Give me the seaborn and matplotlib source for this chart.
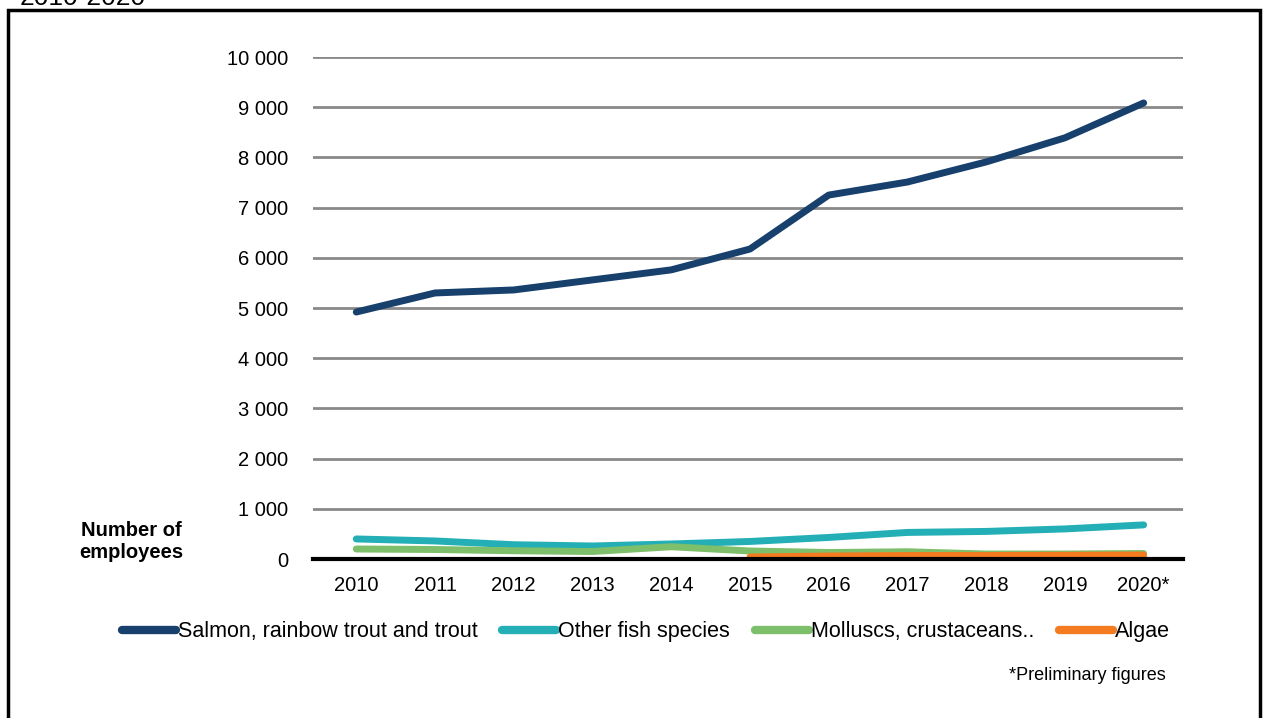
import numpy as np
import pandas as pd
import matplotlib.pyplot as plt
from matplotlib.patches import Rectangle
import seaborn as sns

# data
years = ["2010", "2011", "2012", "2013", "2014", "2015",
         "2016", "2017", "2018", "2019", "2020*"]
salmon = [4920, 5300, 5360, 5560, 5760, 6175, 7250, 7510, 7910, 8390, 9085]
other_fish = [400, 360, 285, 260, 300, 350, 430, 530, 550, 600, 680]
molluscs = [200, 190, 165, 150, 245, 160, 130, 145, 100, 100, 110]
algae = [np.nan, np.nan, np.nan, np.nan, np.nan, 40, 60, 70, 70, 75, 80]

series_names = ["Salmon, rainbow trout and trout", "Other fish species",
                "Molluscs, crustaceans..", "Algae"]
colors = ["#17406D", "#23AFB5", "#7DBF6B", "#F47B20"]
y_ticks = list(range(0, 10001, 1000))

df = pd.DataFrame({
    "x": list(range(len(years))) * 4,
    "value": salmon + other_fish + molluscs + algae,
    "series": np.repeat(series_names, len(years)),
})

sns.set_style("white")
plt.rcParams['font.family'] = ['Liberation Sans', 'DejaVu Sans']
plt.rcParams['text.color'] = 'black'
plt.rcParams['xtick.color'] = 'black'
plt.rcParams['ytick.color'] = 'black'

fig = plt.figure(figsize=(12.65, 7.18), dpi=100)
ax = fig.add_axes([0.2474, 0.2214, 0.6878, 0.6992])

sns.lineplot(data=df, x="x", y="value", hue="series", hue_order=series_names,
             palette=colors, linewidth=5, ax=ax, legend=False,
             solid_capstyle="round")

ax.set_xlim(-0.55, 10.5)
ax.set_ylim(0, 10000)
ax.set_xticks(range(len(years)))
ax.set_xticklabels(years, fontsize=14.5)
ax.set_yticks(y_ticks)
ax.set_yticklabels([f"{v:,}".replace(",", " ") for v in y_ticks], fontsize=14.5)
ax.tick_params(axis="both", length=0, pad=12)
ax.tick_params(axis="y", pad=18)
ax.grid(axis="y", color="#898989", linewidth=2)
ax.set_axisbelow(True)
ax.set_xlabel("")
ax.set_ylabel("")
for side in ["left", "right", "top"]:
    ax.spines[side].set_visible(False)
ax.spines["bottom"].set_color("black")
ax.spines["bottom"].set_linewidth(3)
ax.spines["bottom"].set_zorder(3)

fig.text(131 / 1265, 1 - 542 / 718, "Number of\nemployees", ha="center",
         va="center", fontsize=14.5, fontweight="bold")

# legend
handles = [plt.Line2D([], [], color=c, linewidth=6, solid_capstyle="round")
           for c in colors]
fig.legend(handles, series_names, loc="center", ncol=4,
           bbox_to_anchor=(646 / 1265, 1 - 632 / 718), frameon=False,
           fontsize=15.5, handlelength=2.5, handletextpad=0.1,
           columnspacing=1.15)

fig.text(1166 / 1265, 1 - 675 / 718, "*Preliminary figures", ha="right",
         va="center", fontsize=13)

# cropped title and frame of the original figure
fig.text(20 / 1265, 1 - 5 / 718, "2010-2020", ha="left", va="baseline",
         fontsize=19)
fig.patches.append(Rectangle((8 / 1265, -0.05), 1252 / 1265, 1.05 - 10 / 718,
                             transform=fig.transFigure, fill=False,
                             edgecolor="black", linewidth=2.5))

fig.savefig("out.png", dpi=100)
